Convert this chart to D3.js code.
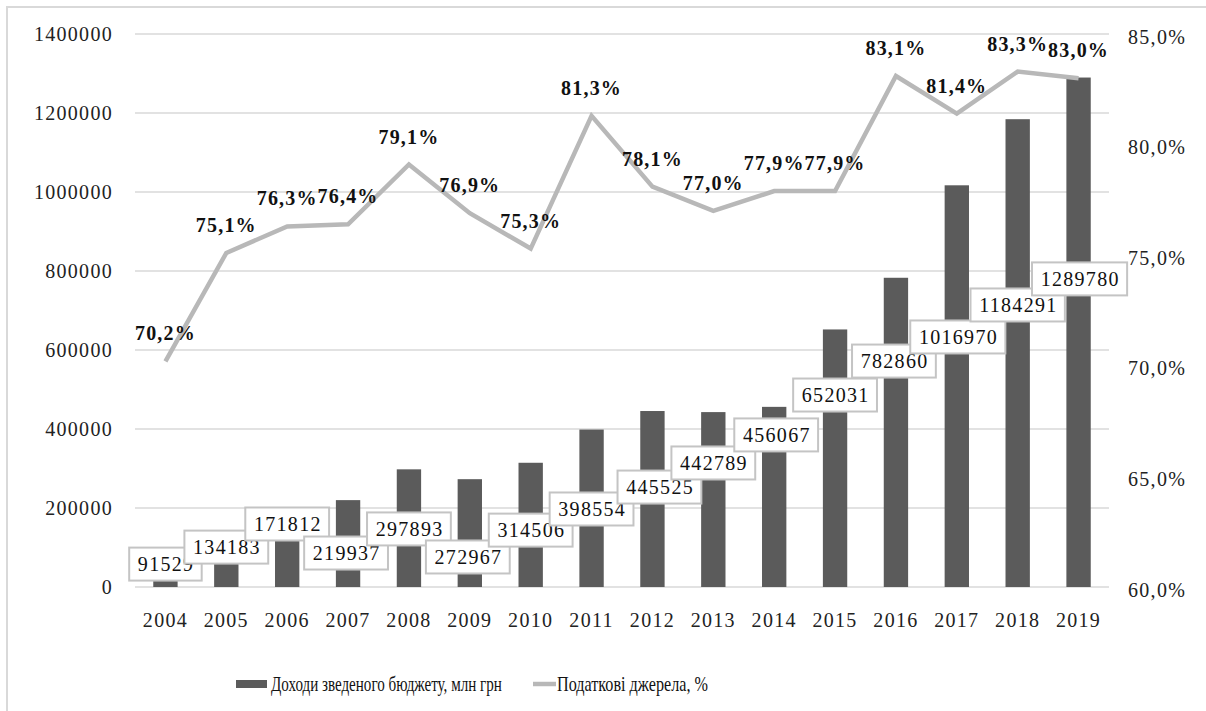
<!DOCTYPE html>
<html><head><meta charset="utf-8">
<script src="https://cdn.jsdelivr.net/npm/d3@7"></script>
<style>
html,body{margin:0;padding:0;background:#fff;}
svg{display:block;font-family:"Liberation Serif","Times New Roman",serif;}
</style></head>
<body>
<svg id="chart" width="1206" height="711"></svg>
<script>
// ---- data ----
const years = ["2004","2005","2006","2007","2008","2009","2010","2011","2012","2013","2014","2015","2016","2017","2018","2019"];
const revenue = [91529,134183,171812,219937,297893,272967,314506,398554,445525,442789,456067,652031,782860,1016970,1184291,1289780];
const taxShare = [70.2,75.1,76.3,76.4,79.1,76.9,75.3,81.3,78.1,77.0,77.9,77.9,83.1,81.4,83.3,83.0];
const leftTicks = [0,200000,400000,600000,800000,1000000,1200000,1400000];
const rightTicks = [60,65,70,75,80,85];
const seriesNames = ["Доходи зведеного бюджету, млн грн","Податкові джерела, %"];
// label anchor (in left-axis units) where the boxed bar labels were placed in the original
const barLabelAnchor = [58000,101000,159500,86000,147000,76000,144000,197500,253000,314000,385000,486000,572000,633000,714000,780000];
const barLabelDx = [0,0,0,-2,0,-2,0,0,7,0,2,0,-2,1,0,1];

// ---- layout ----
const svg = d3.select("#chart");
const L = 135, R = 1109, T = 34, B = 587;
const x = d3.scaleBand().domain(years).range([L,R]).paddingInner(0.6).paddingOuter(0.3);
const yL = d3.scaleLinear().domain([0,1400000]).range([B,T]);
const yR = d3.scaleLinear().domain([60,85]).range([B,T]);
const fmtPct = v => v.toFixed(1).replace(".",",") + "%";

// border
svg.append("rect").attr("x",7).attr("y",7).attr("width",1220).attr("height",730)
  .attr("fill","none").attr("stroke","#d9d9d9").attr("stroke-width",2);

// gridlines
svg.append("g").selectAll("line").data(leftTicks).join("line")
  .attr("x1",L).attr("x2",R).attr("y1",d=>yL(d)).attr("y2",d=>yL(d))
  .attr("stroke","#d9d9d9").attr("stroke-width",1.5);

// left axis
const axL = svg.append("g").attr("transform",`translate(${L},0)`)
  .call(d3.axisLeft(yL).tickValues(leftTicks).tickSize(0).tickPadding(22).tickFormat(d3.format("d")));
axL.select(".domain").remove();
axL.selectAll("text").attr("font-size",20).attr("letter-spacing",1.3).attr("fill","#222")
  .attr("font-family","Liberation Serif");

// right axis
const axR = svg.append("g").attr("transform",`translate(${R},0)`)
  .call(d3.axisRight(yR).tickValues(rightTicks).tickSize(0).tickPadding(19).tickFormat(fmtPct));
axR.select(".domain").remove();
axR.selectAll("text").attr("font-size",20).attr("letter-spacing",1.3).attr("fill","#222")
  .attr("font-family","Liberation Serif").attr("dy","0.45em");

// x axis
const axX = svg.append("g").attr("transform",`translate(0,${B})`)
  .call(d3.axisBottom(x).tickSize(0).tickPadding(26));
axX.select(".domain").remove();
axX.selectAll("text").attr("font-size",20).attr("letter-spacing",1.3).attr("fill","#222")
  .attr("font-family","Liberation Serif");

// bars
svg.append("g").selectAll("rect").data(revenue).join("rect")
  .attr("x",(d,i)=>x(years[i])).attr("width",x.bandwidth())
  .attr("y",d=>yL(d)).attr("height",d=>B-yL(d)).attr("fill","#5b5b5b");

// line
const line = d3.line().x((d,i)=>x(years[i])+x.bandwidth()/2).y(d=>yR(d));
svg.append("path").datum(taxShare).attr("d",line).attr("fill","none")
  .attr("stroke","#b8b8b8").attr("stroke-width",4.5).attr("stroke-linejoin","miter");

// line labels
svg.append("g").selectAll("text").data(taxShare).join("text")
  .attr("x",(d,i)=>x(years[i])+x.bandwidth()/2).attr("y",d=>yR(d)-21)
  .attr("text-anchor","middle").attr("font-size",20).attr("font-weight","bold")
  .attr("letter-spacing",1.2).attr("fill","#111").text(d=>fmtPct(d));

// bar labels (boxed)
const bl = svg.append("g").selectAll("g").data(revenue).join("g")
  .attr("transform",(d,i)=>`translate(${x(years[i])+x.bandwidth()/2+barLabelDx[i]},${yL(barLabelAnchor[i])})`);
const blText = bl.append("text").attr("text-anchor","middle").attr("dy","0.36em")
  .attr("font-size",20).attr("letter-spacing",1.3).attr("fill","#111").text(d=>d);
bl.each(function(){
  const g = d3.select(this);
  const w = g.select("text").node().getComputedTextLength();
  g.insert("rect","text").attr("x",-w/2-8).attr("y",-16.5).attr("width",w+16).attr("height",33)
    .attr("fill","#fff").attr("stroke","#c4c4c4").attr("stroke-width",2);
});
blText.attr("dx",0.65);

// legend (condensed serif text, squeezed horizontally like the original)
const lg = svg.append("g");
function legendText(x0, width, label){
  const g = lg.append("g").attr("transform",`translate(${x0},691)`);
  const t = g.append("text").attr("font-size",22).attr("fill","#111").text(label);
  const natural = t.node().getComputedTextLength();
  t.attr("transform",`scale(${width/natural},1)`);
}
lg.append("rect").attr("x",236).attr("y",680).attr("width",31).attr("height",8).attr("fill","#5b5b5b");
legendText(271, 231, seriesNames[0]);
lg.append("line").attr("x1",533).attr("x2",556).attr("y1",684).attr("y2",684)
  .attr("stroke","#b8b8b8").attr("stroke-width",4.5);
legendText(557, 151, seriesNames[1]);
</script>
</body></html>
